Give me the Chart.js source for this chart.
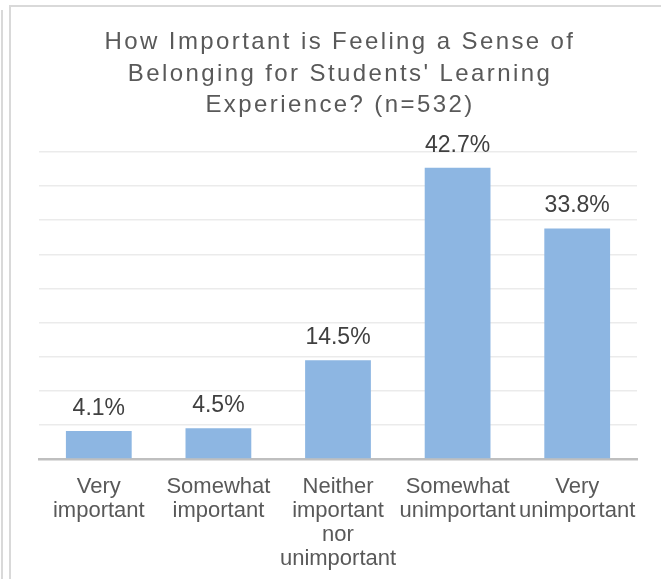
<!DOCTYPE html>
<html>
<head>
<meta charset="utf-8">
<script src="https://cdn.jsdelivr.net/npm/chart.js@4/dist/chart.umd.min.js"></script>
<style>
  html, body { margin: 0; padding: 0; background: #fff; overflow: hidden; }
  #frameA { position: absolute; left: 1px; top: 10px; width: 2px; height: 569px; background: #d9d9d9; }
  #frameB { position: absolute; left: 9px; top: 5px; width: 652px; height: 574px;
            border-left: 2px solid #d9d9d9; border-top: 2px solid #d9d9d9; box-sizing: border-box; }
  #wrap { position: absolute; left: 0; top: 0; width: 661px; height: 579px; overflow: hidden; }
  #inner { position: absolute; left: 0; top: 0; width: 661px; height: 592px; }
</style>
</head>
<body>
<div id="frameA"></div>
<div id="frameB"></div>
<div id="wrap"><div id="inner"><canvas id="myChart"></canvas></div></div>
<script>
const categories = [
  ['Very', 'important'],
  ['Somewhat', 'important'],
  ['Neither', 'important', 'nor', 'unimportant'],
  ['Somewhat', 'unimportant'],
  ['Very', 'unimportant']
];
const shares = [4.1, 4.5, 14.5, 42.7, 33.8];
const titleLines = [
  'How Important is Feeling a Sense of',
  "Belonging for Students' Learning",
  'Experience? (n=532)'
];

const FONT = '"Liberation Sans", Arial, sans-serif';

// spaced-out title, drawn by hand so the letter spacing can be set
const wideTitle = {
  id: 'wideTitle',
  afterDraw(chart) {
    const ctx = chart.ctx;
    ctx.save();
    ctx.font = '24px ' + FONT;
    ctx.letterSpacing = '2.4px';
    ctx.fillStyle = '#595959';
    ctx.textAlign = 'center';
    ctx.textBaseline = 'middle';
    titleLines.forEach((line, i) => {
      ctx.fillText(line, 340, 42.5 + i * 31.4);
    });
    ctx.restore();
  }
};

// value labels above each bar
const barLabels = {
  id: 'barLabels',
  afterDatasetsDraw(chart) {
    const ctx = chart.ctx;
    const meta = chart.getDatasetMeta(0);
    ctx.save();
    ctx.font = '23px ' + FONT;
    ctx.fillStyle = '#404040';
    ctx.textAlign = 'center';
    ctx.textBaseline = 'alphabetic';
    meta.data.forEach((bar, i) => {
      ctx.fillText(shares[i].toFixed(1) + '%', bar.x, bar.y - 16);
    });
    ctx.restore();
  }
};

const chart = new Chart(document.getElementById('myChart').getContext('2d'), {
  type: 'bar',
  data: {
    labels: categories,
    datasets: [{
      data: shares,
      backgroundColor: '#8db6e2',
      borderWidth: 0,
      categoryPercentage: 1,
      barPercentage: 0.55
    }]
  },
  options: {
    responsive: true,
    maintainAspectRatio: false,
    animation: false,
    layout: { padding: { left: 39, right: 24, top: 152, bottom: 5 } },
    plugins: {
      legend: { display: false },
      tooltip: { enabled: false },
      title: { display: false }
    },
    scales: {
      x: {
        grid: { display: false, drawTicks: false },
        border: { display: true, color: '#bfbfbf', width: 2.5 },
        ticks: {
          color: '#595959',
          padding: 16,
          maxRotation: 0,
          autoSkip: false,
          font: { family: FONT, size: 22, lineHeight: 1.09 }
        }
      },
      y: {
        min: 0,
        max: 45,
        ticks: { display: false, stepSize: 5 },
        grid: { color: '#ebebeb', lineWidth: 1.5, drawTicks: false },
        border: { display: false }
      }
    }
  },
  plugins: [barLabels, wideTitle]
});
</script>
</body>
</html>
